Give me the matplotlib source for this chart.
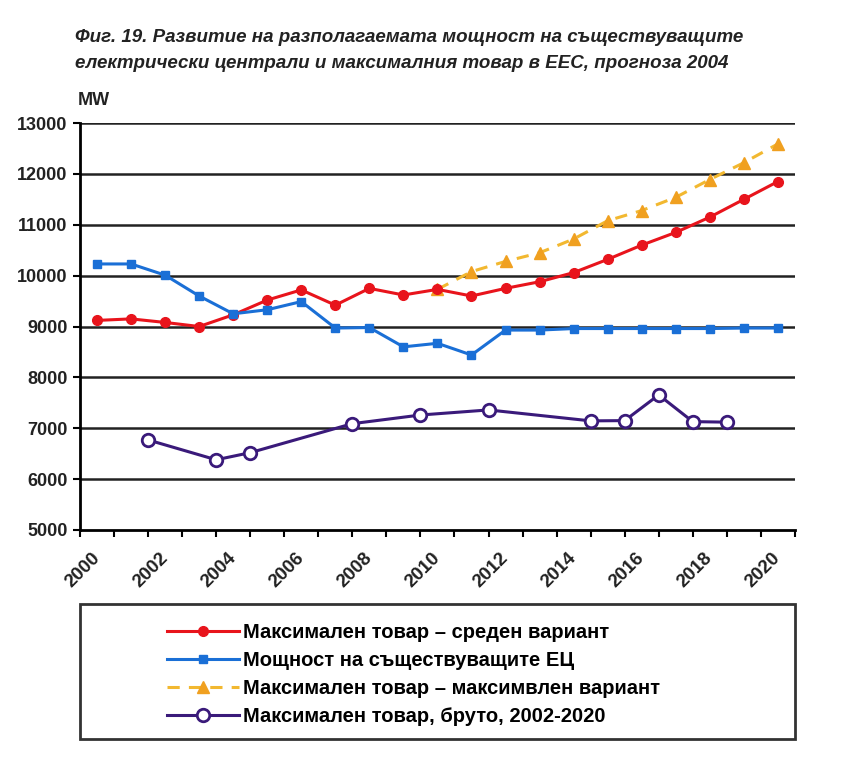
import matplotlib
matplotlib.use("Agg")
import matplotlib.pyplot as plt
import matplotlib.transforms as mtransforms
import numpy as np
from matplotlib.patches import Rectangle

plt.rcParams['font.family'] = ['Liberation Sans', 'DejaVu Sans']

# Години (категории)
years = np.arange(2000, 2021)

# Максимален товар - среден вариант
load_mid = [9120, 9150, 9080, 9000, 9230, 9520, 9720, 9420, 9750, 9620, 9730,
            9600, 9750, 9880, 10060, 10320, 10600, 10850, 11150, 11500, 11850]

# Мощност на съществуващите ЕЦ
capacity = [10230, 10230, 10010, 9600, 9250, 9330, 9490, 8970, 8980, 8600, 8670,
            8440, 8930, 8930, 8960, 8960, 8960, 8960, 8960, 8970, 8970]

# Максимален товар - максимален вариант (от 2010)
years_max = np.arange(2010, 2021)
load_max = [9730, 10080, 10280, 10450, 10720, 11080, 11280, 11540, 11890, 12220, 12590]

# Максимален товар, бруто
years_gross = [2002, 2004, 2005, 2008, 2010, 2012, 2015, 2016, 2017, 2018, 2019]
load_gross = [6770, 6380, 6520, 7090, 7260, 7360, 7145, 7150, 7655, 7130, 7120]

labels = ['Максимален товар – среден вариант',
          'Мощност на съществуващите ЕЦ',
          'Максимален товар – максимвлен вариант',
          'Максимален товар, бруто, 2002-2020']

fig = plt.figure(figsize=(8.44, 7.62), dpi=100)
ax = fig.add_axes([0.0948, 0.3045, 0.847, 0.534])

l1, = ax.plot(years, load_mid, color='#e8141c', lw=2.2, marker='o', ms=7,
              label=labels[0], zorder=4)
l2, = ax.plot(years, capacity, color='#1a6fd6', lw=2.2, marker='s', ms=6,
              label=labels[1], zorder=4)
l3, = ax.plot(years_max, load_max, color='#f2b830', lw=2.2, ls=(0, (4, 3)),
              marker='^', ms=8, mfc='#f0a020', mec='#f0a020',
              label=labels[2], zorder=3)
# бруто-серията е изместена с половин година (точките са на делителите)
l4, = ax.plot(np.array(years_gross) - 0.5, load_gross, color='#3a1a7a', lw=2.2,
              marker='o', ms=9, mfc='white', mec='#3a1a7a', mew=2,
              label=labels[3], zorder=4)

ax.set_xlim(1999.5, 2020.5)
ax.set_ylim(5000, 13000)
ax.set_yticks(np.arange(5000, 13001, 1000))
for v in range(6000, 13001, 1000):
    ax.axhline(v, color='#222222', lw=1.8, zorder=1)

ax.set_xticks(np.arange(1999.5, 2021, 1))
ax.set_xticklabels([])
ax.set_xticks(np.arange(2000, 2021, 2), minor=True)
ax.set_xticklabels([str(y) for y in range(2000, 2021, 2)], minor=True,
                   rotation=45, ha='right', va='top', rotation_mode='anchor',
                   fontsize=13.5, fontweight='bold', color='#222222')
ax.tick_params(axis='x', which='major', length=5, width=1.5, direction='out')
ax.tick_params(axis='x', which='minor', length=0, pad=14)
shift = mtransforms.ScaledTranslation(-6 / 100, 0, fig.dpi_scale_trans)
for t in ax.get_xticklabels(minor=True):
    t.set_transform(t.get_transform() + shift)
ax.tick_params(axis='y', length=5, width=1.5, labelsize=13, pad=4,
               labelcolor='#222222')
for t in ax.get_yticklabels():
    t.set_fontweight('bold')

for s in ['top', 'right']:
    ax.spines[s].set_visible(False)
ax.spines['left'].set_linewidth(2)
ax.spines['bottom'].set_linewidth(2)

fig.text(0.092, 0.862, 'MW', fontsize=13, fontweight='bold', color='#222222')

fig.text(0.089, 0.945,
         'Фиг. 19. Развитие на разполагаемата мощност на съществуващите',
         fontsize=13.5, fontweight='bold', style='italic', color='#222222')
fig.text(0.089, 0.911,
         'електрически централи и максималния товар в ЕЕС, прогноза 2004',
         fontsize=13.5, fontweight='bold', style='italic', color='#222222')

# рамка на легендата
fig.patches.append(Rectangle((0.0948, 0.030), 0.847, 0.178,
                             transform=fig.transFigure, fill=False,
                             edgecolor='#333333', lw=2))
leg = fig.legend(handles=[l1, l2, l3, l4], loc='upper left',
                 bbox_to_anchor=(0.176, 0.206), frameon=False,
                 prop={'weight': 'bold', 'size': 14.5},
                 handlelength=3.6, handletextpad=0.2, labelspacing=0.45)

fig.savefig('out.png', dpi=100)
